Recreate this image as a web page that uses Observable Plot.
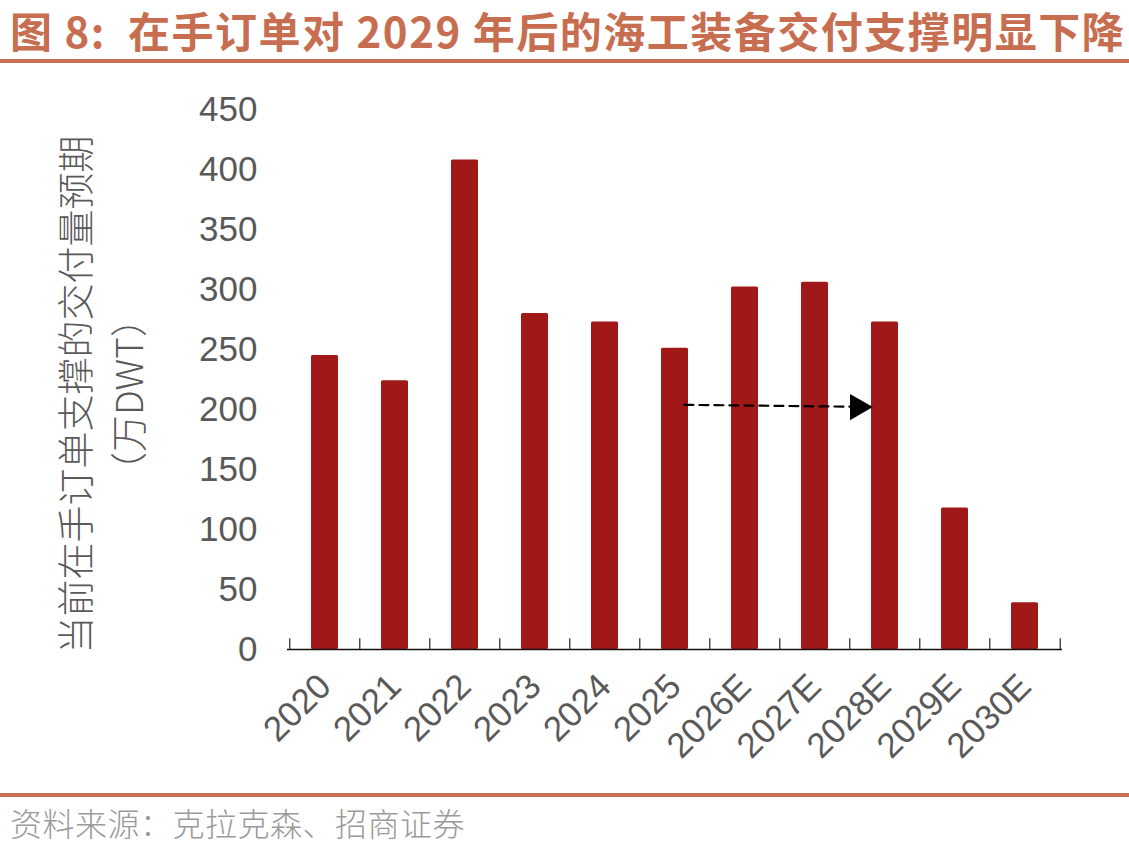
<!DOCTYPE html>
<html>
<head>
<meta charset="utf-8">
<script src="https://cdn.jsdelivr.net/npm/d3@7"></script>
<script src="https://cdn.jsdelivr.net/npm/@observablehq/plot@0.6"></script>
<style>
  html, body { margin: 0; padding: 0; background: #fff; }
  #page { position: relative; width: 1129px; height: 849px; overflow: hidden; }
  #title { position: absolute; left: 10px; top: 5px; white-space: nowrap;
    font-family: "Noto Sans CJK SC", sans-serif; font-weight: 700; font-size: 42px;
    color: #C76E50; line-height: 50px; letter-spacing: 1.5px; }
  .rule { position: absolute; left: 0; width: 1129px; height: 4px; background: #C8704F; }
  #caption { position: absolute; left: 10px; top: 802px; white-space: nowrap;
    font-family: "Noto Sans CJK SC", sans-serif; font-weight: 300; font-size: 32px;
    color: #9a9a9a; line-height: 40px; letter-spacing: 0.5px; }
  #chart { position: absolute; left: 0; top: 66px; }
</style>
</head>
<body>
<div id="page">
  <div id="title">图 8:&nbsp; 在手订单对 2029 年后的海工装备交付支撑明显下降</div>
  <div class="rule" style="top:59px"></div>
  <div id="chart"></div>
  <div class="rule" style="top:793px"></div>
  <div id="caption">资料来源：克拉克森、招商证券</div>
</div>
<script>
const years = ["2020", "2021", "2022", "2023", "2024", "2025", "2026E", "2027E", "2028E", "2029E", "2030E"];
const values = [245, 224, 408, 280, 273, 251, 302, 306, 273, 118, 39];
const yTicks = [0, 50, 100, 150, 200, 250, 300, 350, 400, 450];
const yTitle = "当前在手订单支撑的交付量预期\n（万DWT）";
const arrowFrom = "2025", arrowTo = "2028E";
const arrowY1 = 204, arrowY2 = 202;

const data = years.map((year, i) => ({year, value: values[i]}));

const W = 1129, H = 724;
const mL = 287, mR = 67, mT = 43, mB = 141;
const step = (W - mL - mR) / years.length;
const padInner = 0.62;
const bandW = step * (1 - padInner);

const font = "'Liberation Sans', Arial, sans-serif";
const grey = "#595959";

const chart = Plot.plot({
  width: W, height: H,
  marginLeft: mL, marginRight: mR, marginTop: mT, marginBottom: mB,
  style: {fontFamily: font, background: "white", overflow: "visible"},
  x: {domain: years, paddingInner: padInner, paddingOuter: padInner / 2},
  y: {domain: [0, 450]},
  marks: [
    Plot.axisY({ticks: yTicks, tickSize: 0, tickPadding: 30, fontSize: 35, fill: grey, label: null}),
    Plot.axisX({tickSize: 0, tickPadding: 31, tickRotate: -45, fontSize: 35, fill: grey, label: null}),
    Plot.barY(data, {x: "year", y: "value", fill: "#A11818", rx: 1.5}),
    Plot.ruleY([0], {stroke: "#111", strokeWidth: 1.5}),
    // tick marks at band boundaries pointing up
    Plot.ruleX(years, {x: d => d, dx: -step / 2, y1: 0, y2: 9, stroke: "#333", strokeWidth: 1.3}),
    Plot.ruleX([years[years.length - 1]], {x: d => d, dx: step / 2, y1: 0, y2: 9, stroke: "#333", strokeWidth: 1.3}),
    // dashed arrow
    Plot.arrow([{x1: arrowFrom, x2: arrowTo, y1: arrowY1, y2: arrowY2}], {
      x1: "x1", x2: "x2", y1: "y1", y2: "y2",
      headLength: 0, bend: 0, stroke: "black", strokeWidth: 2.2, strokeDasharray: "9,6",
      insetStart: bandW / 2 - 4, insetEnd: bandW / 2 + 15
    }),
    Plot.dot([{x: arrowTo, y: arrowY2}], {
      x: "x", y: "y", symbol: "triangle", rotate: 90, r: 9.8, fill: "black", stroke: null,
      dx: -bandW / 2 - 14
    }),
    // y-axis title (two lines, rotated)
    Plot.text([yTitle], {
      frameAnchor: "left", text: d => d, rotate: -90, dx: -188, dy: 15,
      fontSize: 37, lineHeight: 1.43, fill: grey, textAnchor: "middle", lineAnchor: "middle",
      fontFamily: "'Noto Sans CJK SC', sans-serif", fontWeight: 300
    })
  ]
});
document.getElementById("chart").appendChild(chart);
</script>
</body>
</html>
